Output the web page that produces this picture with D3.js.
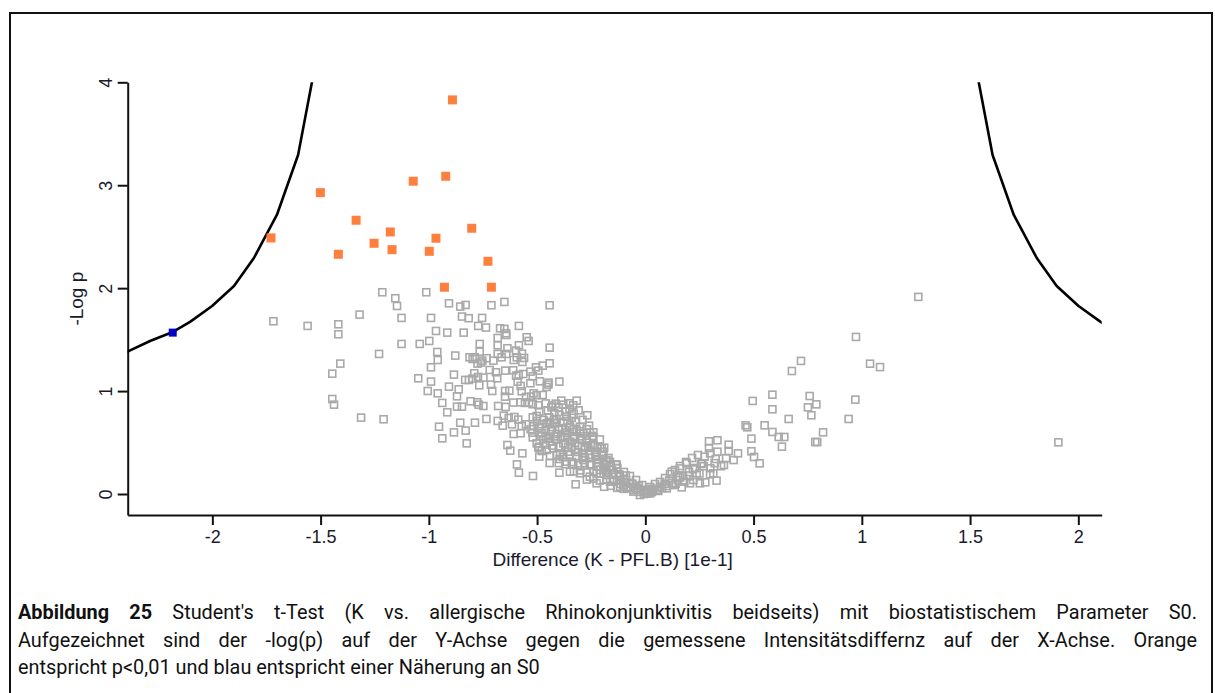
<!DOCTYPE html>
<html>
<head>
<meta charset="utf-8">
<script src="https://cdn.jsdelivr.net/npm/d3@7"></script>
<style>
  html, body { margin: 0; padding: 0; background: #fff; }
  svg { display: block; }
</style>
</head>
<body>
<svg id="chart" width="1215" height="693"></svg>
<script>
// Volcano plot: t-test difference vs -log p with S0 significance curves

const xTicks = [-2, -1.5, -1, -0.5, 0, 0.5, 1, 1.5, 2];
const yTicks = [0, 1, 2, 3, 4];

// S0 curve (left branch); the right branch is its mirror image
const curveDiff = [-1.50, -1.540, -1.604, -1.702, -1.808, -1.900, -2.001, -2.103, -2.180, -2.288, -2.400];
const curveLogP = [4.40, 4.000, 3.294, 2.711, 2.293, 2.021, 1.827, 1.672, 1.577, 1.487, 1.375];

// significant proteins (p < 0.01)
const sigPoints = [
  [-1.729, 2.488], [-1.501, 2.928], [-1.336, 2.660], [-1.418, 2.329], [-1.253, 2.436],
  [-0.891, 3.829], [-1.072, 3.039], [-0.922, 3.087], [-1.178, 2.546], [-1.170, 2.374],
  [-0.967, 2.485], [-0.998, 2.358], [-0.802, 2.582], [-0.727, 2.261], [-0.928, 2.009],
  [-0.711, 2.009]
];

// protein lying on the S0 curve
const s0Points = [[-2.183, 1.568]];

// all remaining proteins
const otherPoints = [
  [-1.718, 1.678], [-1.560, 1.633], [-1.418, 1.649], [-1.418, 1.552], [-1.409, 1.267],
  [-1.446, 1.169], [-1.446, 0.923], [-1.438, 0.868], [-1.313, 0.742], [-1.209, 0.726],
  [-1.215, 1.960], [-1.012, 1.960], [-1.155, 1.902], [-1.147, 1.827], [-0.907, 1.853],
  [-0.855, 1.821], [-0.830, 1.837], [-0.711, 1.834], [-0.651, 1.866], [-0.442, 1.834],
  [-1.320, 1.743], [-1.126, 1.711], [-0.990, 1.711], [-0.847, 1.724], [-0.816, 1.708],
  [-0.754, 1.711], [-0.772, 1.633], [-0.736, 1.617], [-0.671, 1.610], [-0.651, 1.604],
  [-0.584, 1.633], [-0.967, 1.584], [-0.915, 1.568], [-0.839, 1.568], [-0.644, 1.562],
  [-0.642, 1.545], [-0.682, 1.516], [-0.548, 1.523], [-0.539, 1.487], [-1.126, 1.458],
  [-1.042, 1.458], [-0.998, 1.487], [-0.765, 1.458], [-0.682, 1.445], [-0.584, 1.445],
  [-0.442, 1.422], [-0.637, 1.416], [-1.230, 1.361], [-0.961, 1.380], [-0.878, 1.345],
  [-0.765, 1.383], [-0.682, 1.361], [-0.642, 1.361], [-0.597, 1.393], [-0.570, 1.364],
  [-0.959, 1.302], [-0.812, 1.328], [-0.798, 1.312], [-0.788, 1.328], [-0.753, 1.296],
  [-0.733, 1.319], [-0.702, 1.296], [-0.664, 1.328], [-0.608, 1.302], [-0.594, 1.328],
  [-0.560, 1.322], [-0.568, 1.283], [-0.990, 1.231], [-0.442, 1.270], [-0.474, 1.247],
  [-0.505, 1.231], [-0.775, 1.267], [-0.759, 1.277], [-0.884, 1.160], [-0.790, 1.173],
  [-0.719, 1.205], [-0.690, 1.183], [-0.647, 1.199], [-0.610, 1.202], [-0.585, 1.157],
  [-0.564, 1.166], [-0.531, 1.189], [-0.494, 1.199], [-1.049, 1.124], [-0.990, 1.092],
  [-0.832, 1.108], [-0.815, 1.108], [-0.799, 1.121], [-0.773, 1.137], [-0.748, 1.131],
  [-0.684, 1.124], [-0.597, 1.150], [-0.520, 1.144], [-0.487, 1.095], [-0.447, 1.082],
  [-0.397, 1.092], [-0.907, 1.043], [-0.862, 1.017], [-0.767, 1.056], [-0.713, 1.063],
  [-0.576, 1.050], [-0.531, 1.076], [-0.456, 1.040], [-0.448, 1.063], [-0.590, 1.092],
  [-1.005, 1.001], [-0.959, 0.978], [-0.707, 1.001], [-0.648, 1.001], [-0.628, 1.004],
  [-0.571, 0.998], [-0.516, 0.978], [-0.528, 0.946], [-0.502, 0.959], [-0.474, 0.962],
  [-0.870, 0.949], [-0.648, 0.946], [-0.551, 0.943], [-0.938, 0.885], [-0.870, 0.849],
  [-0.847, 0.849], [-0.807, 0.901], [-0.776, 0.891], [-0.770, 0.868], [-0.748, 0.855],
  [-0.680, 0.855], [-0.645, 0.846], [-0.610, 0.888], [-0.577, 0.891], [-0.556, 0.885],
  [-0.537, 0.888], [-0.520, 0.872], [-0.494, 0.862], [-0.434, 0.842], [-0.414, 0.878],
  [-0.388, 0.907], [-0.350, 0.881], [-0.317, 0.907], [-0.379, 0.868], [-0.333, 0.862],
  [-0.915, 0.794], [-0.855, 0.693], [-0.787, 0.693], [-0.734, 0.729], [-0.682, 0.710],
  [-0.654, 0.761], [-0.631, 0.739], [-0.605, 0.748], [-0.587, 0.723], [-0.520, 0.745],
  [-0.502, 0.758], [-0.445, 0.745], [-0.422, 0.719], [-0.397, 0.768], [-0.366, 0.752],
  [-0.331, 0.778], [-0.308, 0.813], [-0.268, 0.765], [-0.953, 0.654], [-0.659, 0.664],
  [-0.616, 0.677], [-0.571, 0.661], [-0.551, 0.677], [-0.516, 0.658], [-0.479, 0.677],
  [-0.456, 0.687], [-0.417, 0.687], [-0.379, 0.693], [-0.348, 0.654], [-0.302, 0.654],
  [-0.260, 0.664], [-0.884, 0.599], [-0.830, 0.616], [-0.608, 0.583], [-0.576, 0.590],
  [-0.522, 0.596], [-0.479, 0.590], [-0.460, 0.564], [-0.437, 0.609], [-0.410, 0.583],
  [-0.363, 0.596], [-0.317, 0.616], [-0.286, 0.590], [-0.256, 0.596], [-0.938, 0.541],
  [-0.825, 0.492], [-0.637, 0.476], [-0.502, 0.492], [-0.471, 0.531], [-0.440, 0.509],
  [-0.413, 0.531], [-0.379, 0.492], [-0.348, 0.509], [-0.302, 0.531], [-0.271, 0.499],
  [-0.240, 0.476], [-0.209, 0.444], [-0.624, 0.421], [-0.568, 0.395], [-0.494, 0.450],
  [-0.479, 0.418], [-0.456, 0.428], [-0.425, 0.444], [-0.394, 0.395], [-0.356, 0.411],
  [-0.325, 0.428], [-0.286, 0.395], [-0.256, 0.421], [-0.225, 0.379], [-0.194, 0.411],
  [-0.490, 0.363], [-0.593, 0.288], [-0.442, 0.301], [-0.396, 0.340], [-0.363, 0.314],
  [-0.333, 0.292], [-0.286, 0.330], [-0.256, 0.282], [-0.225, 0.305], [-0.179, 0.314],
  [-0.132, 0.282], [-0.163, 0.266], [-0.584, 0.207], [-0.519, 0.175], [-0.397, 0.207],
  [-0.348, 0.217], [-0.302, 0.201], [-0.256, 0.168], [-0.225, 0.201], [-0.194, 0.233],
  [-0.148, 0.201], [-0.117, 0.168], [-0.102, 0.136], [-0.322, 0.094], [-0.225, 0.104],
  [-0.163, 0.120], [-0.102, 0.087], [-0.071, 0.104], [-0.040, 0.055], [-0.009, 0.039],
  [0.022, 0.006],
  // dense band around the origin
  [-0.385, 0.641], [-0.371, 0.544], [-0.357, 0.457], [-0.380, 0.379], [-0.338, 0.603],
  [-0.325, 0.496], [-0.311, 0.408], [-0.292, 0.525], [-0.278, 0.350], [-0.264, 0.457],
  [-0.255, 0.282], [-0.246, 0.564], [-0.232, 0.408], [-0.218, 0.330], [-0.209, 0.233],
  [-0.195, 0.379], [-0.186, 0.282], [-0.177, 0.185], [-0.163, 0.311], [-0.154, 0.233],
  [-0.145, 0.136], [-0.131, 0.253], [-0.122, 0.175], [-0.113, 0.097], [-0.099, 0.214],
  [-0.089, 0.136], [-0.080, 0.068], [-0.071, 0.175], [-0.062, 0.097], [-0.052, 0.039],
  [-0.043, 0.136], [-0.034, 0.058], [-0.024, 0.019], [-0.015, 0.087], [-0.006, 0.000],
  [0.003, 0.039], [0.012, 0.010], [0.022, 0.068], [0.031, 0.019], [0.045, 0.097],
  [0.054, 0.039], [0.068, 0.117], [0.077, 0.058], [0.091, 0.155], [0.100, 0.078],
  [0.114, 0.194], [0.123, 0.107], [0.137, 0.233], [0.151, 0.136], [0.160, 0.272],
  [0.174, 0.175], [0.188, 0.311], [0.202, 0.214], [0.216, 0.350], [0.230, 0.253],
  [0.243, 0.379], [0.257, 0.292],
  [-0.46, 0.88], [-0.43, 0.86], [-0.40, 0.84], [-0.49, 0.80], [-0.45, 0.81],
  [-0.42, 0.79], [-0.37, 0.80], [-0.35, 0.83], [-0.50, 0.71], [-0.47, 0.72],
  [-0.44, 0.70], [-0.41, 0.73], [-0.36, 0.71], [-0.34, 0.74], [-0.32, 0.70],
  [-0.29, 0.72], [-0.53, 0.63], [-0.49, 0.64], [-0.46, 0.62], [-0.43, 0.65],
  [-0.40, 0.63], [-0.37, 0.62], [-0.33, 0.63], [-0.30, 0.61], [-0.27, 0.63],
  [-0.24, 0.60], [-0.52, 0.55], [-0.48, 0.56], [-0.45, 0.54], [-0.42, 0.56],
  [-0.39, 0.55], [-0.36, 0.57], [-0.33, 0.55], [-0.30, 0.56], [-0.27, 0.54],
  [-0.24, 0.55], [-0.21, 0.53], [-0.49, 0.46], [-0.46, 0.48], [-0.43, 0.47],
  [-0.40, 0.46], [-0.37, 0.48], [-0.34, 0.46], [-0.31, 0.47], [-0.28, 0.45],
  [-0.25, 0.47], [-0.22, 0.46], [-0.19, 0.45], [-0.44, 0.37], [-0.41, 0.38],
  [-0.38, 0.36], [-0.35, 0.38], [-0.32, 0.37], [-0.29, 0.36], [-0.26, 0.38],
  [-0.23, 0.36], [-0.20, 0.37], [-0.17, 0.35], [-0.40, 0.30], [-0.37, 0.29],
  [-0.34, 0.31], [-0.31, 0.28], [-0.28, 0.30], [-0.25, 0.29], [-0.22, 0.27],
  [-0.19, 0.29], [-0.16, 0.27], [-0.13, 0.25], [-0.33, 0.22], [-0.30, 0.23],
  [-0.27, 0.21], [-0.24, 0.22], [-0.21, 0.20], [-0.18, 0.22], [-0.15, 0.20],
  [-0.12, 0.19], [-0.09, 0.18], [-0.27, 0.14], [-0.24, 0.15], [-0.21, 0.13],
  [-0.18, 0.14], [-0.15, 0.12], [-0.12, 0.13], [-0.09, 0.11], [-0.06, 0.10],
  [-0.03, 0.08], [-0.19, 0.07], [-0.16, 0.08], [-0.13, 0.06], [-0.10, 0.05],
  [-0.07, 0.06], [-0.04, 0.04], [-0.01, 0.03], [0.02, 0.02], [0.03, 0.05],
  [0.06, 0.03], [0.09, 0.10], [0.11, 0.13], [0.14, 0.10], [0.16, 0.16],
  [0.18, 0.12], [0.20, 0.18], [0.22, 0.24], [0.25, 0.20], [0.27, 0.27],
  [0.30, 0.25], [0.32, 0.30], [0.35, 0.27],
  [-0.055, 0.023], [-0.086, 0.055], [-0.117, 0.071], [-0.148, 0.136], [-0.135, 0.288],
  [-0.179, 0.330], [-0.202, 0.444], [-0.194, 0.249], [-0.171, 0.201], [-0.117, 0.136],
  [-0.025, -0.010], [0.006, 0.006], [0.037, 0.039], [0.068, 0.071], [0.099, 0.055],
  [0.129, 0.087], [0.168, 0.065], [0.152, 0.168], [0.122, 0.217], [0.160, 0.249],
  [0.191, 0.298], [0.222, 0.136], [0.237, 0.185], [0.206, 0.104], [0.252, 0.104],
  [0.277, 0.113], [0.329, 0.130], [0.299, 0.191], [0.314, 0.201], [0.263, 0.298],
  [0.299, 0.395], [0.274, 0.363], [0.325, 0.340], [0.373, 0.347], [0.363, 0.282],
  [0.408, 0.330], [0.428, 0.395], [0.385, 0.418], [0.333, 0.411], [0.294, 0.447],
  [0.385, 0.479], [0.333, 0.522], [0.294, 0.512],
  // right side
  [0.528, 0.298], [0.502, 0.360], [0.490, 0.415], [0.490, 0.538], [0.642, 0.554],
  [0.616, 0.554], [0.587, 0.603], [0.551, 0.667], [0.471, 0.648], [0.463, 0.667],
  [0.631, 0.460], [0.785, 0.505], [0.794, 0.505], [0.821, 0.599], [0.939, 0.729],
  [0.970, 0.917], [0.767, 0.765], [0.751, 0.842], [0.790, 0.871], [0.759, 0.952],
  [0.662, 0.729], [0.587, 0.823], [0.587, 0.965], [0.496, 0.904], [0.677, 1.195],
  [0.719, 1.293], [0.973, 1.526], [1.038, 1.266], [1.084, 1.233], [1.261, 1.915],
  [1.908, 0.502]
];

// ---- layout ----
const svg = d3.select("#chart");
const plot = { left: 127.7, right: 1101.7, top: 82.3, bottom: 515 };

const x = d3.scaleLinear().domain([-2.391, 2.108]).range([plot.left, plot.right]);
const y = d3.scaleLinear().domain([-0.204, 4.0]).range([plot.bottom, plot.top]);

// outer figure frame
svg.append("rect")
  .attr("x", 10).attr("y", 13).attr("width", 1202).attr("height", 700)
  .attr("fill", "none").attr("stroke", "#111").attr("stroke-width", 2);

svg.append("clipPath").attr("id", "plotClip")
  .append("rect")
  .attr("x", plot.left).attr("y", plot.top)
  .attr("width", plot.right - plot.left).attr("height", plot.bottom - plot.top);

const axisFont = "'Liberation Sans', Arial, sans-serif";

// x axis
const gx = svg.append("g")
  .attr("transform", `translate(0,${plot.bottom})`)
  .call(d3.axisBottom(x).tickValues(xTicks).tickSize(10).tickSizeOuter(0).tickPadding(5)
    .tickFormat(d => String(d)));
gx.select(".domain").attr("stroke", "#111").attr("stroke-width", 2);
gx.selectAll(".tick line").attr("stroke", "#111").attr("stroke-width", 2);
gx.selectAll(".tick text").attr("font-family", axisFont).attr("font-size", 18).attr("fill", "#1a1a2e");

// y axis with rotated labels
const gy = svg.append("g")
  .attr("transform", `translate(${plot.left},0)`)
  .call(d3.axisLeft(y).tickValues(yTicks).tickSize(10).tickSizeOuter(0)
    .tickFormat(d => String(d)));
gy.select(".domain").attr("stroke", "#111").attr("stroke-width", 2);
gy.selectAll(".tick line").attr("stroke", "#111").attr("stroke-width", 2);
gy.selectAll(".tick text")
  .attr("font-family", axisFont).attr("font-size", 18).attr("fill", "#1a1a2e")
  .attr("x", null).attr("dy", "0.36em")
  .attr("text-anchor", "middle")
  .attr("transform", "translate(-22.5,0) rotate(-90)");

// axis titles
svg.append("text")
  .attr("x", (plot.left + plot.right) / 2 - 2).attr("y", 566)
  .attr("text-anchor", "middle")
  .attr("font-family", axisFont).attr("font-size", 19).attr("fill", "#1a1a2e")
  .text("Difference (K - PFL.B) [1e-1]");

svg.append("text")
  .attr("transform", `translate(83,${(plot.top + plot.bottom) / 2}) rotate(-90)`)
  .attr("text-anchor", "middle")
  .attr("font-family", axisFont).attr("font-size", 19).attr("fill", "#1a1a2e")
  .text("-Log p");

// ---- marks ----
const marks = svg.append("g").attr("clip-path", "url(#plotClip)");

const grayS = 7;
marks.append("g").selectAll("rect")
  .data(otherPoints).join("rect")
  .attr("x", d => x(d[0]) - grayS / 2).attr("y", d => y(d[1]) - grayS / 2)
  .attr("width", grayS).attr("height", grayS)
  .attr("fill", "none").attr("stroke", "#a9a9a9").attr("stroke-width", 1.6);

const line = d3.line().x(d => x(d[0])).y(d => y(d[1]));
const leftBranch = curveDiff.map((v, i) => [v, curveLogP[i]]);
const rightBranch = curveDiff.map((v, i) => [-v, curveLogP[i]]);
[leftBranch, rightBranch].forEach(b => {
  marks.append("path").datum(b)
    .attr("d", line).attr("fill", "none")
    .attr("stroke", "#000").attr("stroke-width", 2.6).attr("stroke-linejoin", "round");
});

const sigS = 9;
marks.append("g").selectAll("rect")
  .data(sigPoints).join("rect")
  .attr("x", d => x(d[0]) - sigS / 2).attr("y", d => y(d[1]) - sigS / 2)
  .attr("width", sigS).attr("height", sigS)
  .attr("fill", "#ff7f3e");

const s0S = 8;
marks.append("g").selectAll("rect")
  .data(s0Points).join("rect")
  .attr("x", d => x(d[0]) - s0S / 2).attr("y", d => y(d[1]) - s0S / 2)
  .attr("width", s0S).attr("height", s0S)
  .attr("fill", "#0000c8");

// ---- caption (condensed by horizontal scaling, first two lines justified) ----
const capFont = "Roboto, 'Noto Sans', sans-serif";
const capLeft = 18, capRight = 1197, lastLineWidth = 522;
const captionLines = [
  { bold: "Abbildung 25", rest: " Student's t-Test (K vs. allergische Rhinokonjunktivitis beidseits) mit biostatistischem Parameter S0.", y: 619, justify: true },
  { bold: "", rest: "Aufgezeichnet sind der -log(p) auf der Y-Achse gegen die gemessene Intensitätsdiffernz auf der X-Achse. Orange", y: 647, justify: true },
  { bold: "", rest: "entspricht p<0,01 und blau entspricht einer Näherung an S0", y: 674, justify: false }
];
const capTexts = captionLines.map(l => {
  const t = svg.append("text")
    .attr("font-family", capFont).attr("font-size", 20).attr("fill", "#111");
  if (l.bold) t.append("tspan").attr("font-weight", "bold").text(l.bold);
  t.append("tspan").text(l.rest);
  return t;
});
const sx = lastLineWidth / capTexts[2].node().getComputedTextLength();
capTexts.forEach((t, i) => {
  const l = captionLines[i];
  t.attr("transform", `translate(${capLeft},${l.y}) scale(${sx},1)`);
  if (l.justify) {
    const w = t.node().getComputedTextLength();
    const spaces = (l.bold + l.rest).split(" ").length - 1;
    t.attr("word-spacing", ((capRight - capLeft) / sx - w) / spaces);
  }
});
</script>
</body>
</html>
